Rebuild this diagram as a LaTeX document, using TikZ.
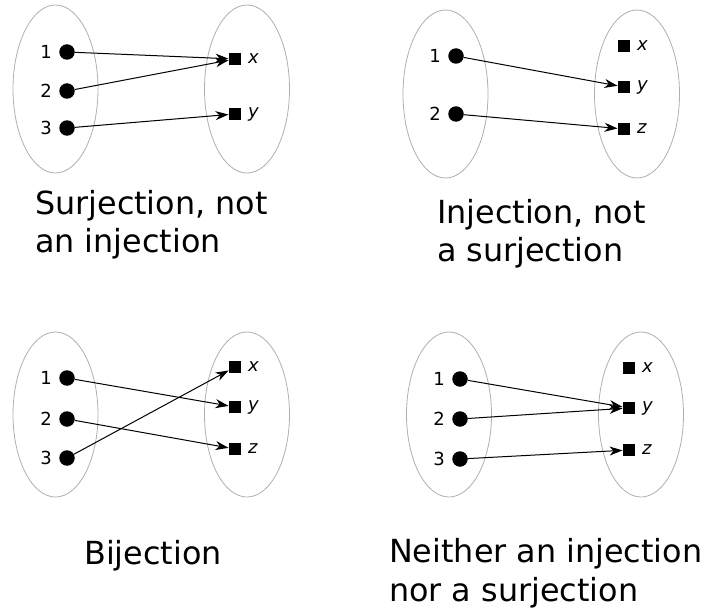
\documentclass[tikz,border=0pt]{standalone}
\usepackage{fontspec}
\setmainfont{DejaVu Sans}
\usetikzlibrary{arrows.meta}
\definecolor{setgray}{HTML}{AFAFAF}
\begin{document}
\begin{tikzpicture}[x=1pt,y=-1pt,
  setellipse/.style={draw=setgray,line width=0.8pt},
  dotnode/.style={circle,fill=black,inner sep=0pt,minimum size=15.5pt},
  sqnode/.style={rectangle,fill=black,inner sep=0pt,minimum size=11.5pt},
  numlbl/.style={inner sep=0pt,font=\fontsize{18}{21}\selectfont},
  letlbl/.style={inner sep=0pt,font=\fontsize{18}{21}\selectfont\itshape},
  maparrow/.style={-{Stealth[length=13pt,width=9pt,inset=4pt]},line width=1pt,shorten >=0.5pt},
  caption/.style={anchor=base west,inner sep=0pt,font=\fontsize{31.8}{38}\selectfont},
  label distance=7pt]
\useasboundingbox (0,0) rectangle (702,610);
% ---------- Panel 1 ----------
\draw[setellipse] (55.5,89) ellipse [x radius=42.5, y radius=84];
\draw[setellipse] (247,89) ellipse [x radius=42.5, y radius=84];
\node[dotnode,label={[numlbl]left:1}] (a1) at (67,52) {};
\node[dotnode,label={[numlbl]left:2}] (a2) at (67,91) {};
\node[dotnode,label={[numlbl]left:3}] (a3) at (67,128) {};
\node[sqnode,label={[letlbl]right:x}] (ax) at (235,59) {};
\node[sqnode,label={[letlbl]right:y}] (ay) at (235,114) {};
\draw[maparrow] (a1) -- (ax);
\draw[maparrow] (a2) -- (ax);
\draw[maparrow] (a3) -- (ay);
\node[caption] (cap1a) at (35,214) {Surjection, not};
\node[caption] (cap1b) at (35,252) {an injection};
% ---------- Panel 2 ----------
\draw[setellipse] (445.5,94) ellipse [x radius=42.5, y radius=84];
\draw[setellipse] (637,94) ellipse [x radius=42.5, y radius=84];
\node[dotnode,label={[numlbl]left:1}] (b1) at (456,56) {};
\node[dotnode,label={[numlbl]left:2}] (b2) at (456,114) {};
\node[sqnode,label={[letlbl]right:x}] (bx) at (624,46) {};
\node[sqnode,label={[letlbl]right:y}] (by) at (624,87) {};
\node[sqnode,label={[letlbl]right:z}] (bz) at (624,129) {};
\draw[maparrow] (b1) -- (by);
\draw[maparrow] (b2) -- (bz);
\node[caption] (cap2a) at (437,223) {Injection, not};
\node[caption] (cap2b) at (437,261) {a surjection};
% ---------- Panel 3 ----------
\draw[setellipse] (55.5,414.5) ellipse [x radius=42.5, y radius=82.5];
\draw[setellipse] (247,414.5) ellipse [x radius=42.5, y radius=82.5];
\node[dotnode,label={[numlbl]left:1}] (c1) at (67,378) {};
\node[dotnode,label={[numlbl]left:2}] (c2) at (67,419) {};
\node[dotnode,label={[numlbl]left:3}] (c3) at (67,458) {};
\node[sqnode,label={[letlbl]right:x}] (cx) at (235,367) {};
\node[sqnode,label={[letlbl]right:y}] (cy) at (235,407) {};
\node[sqnode,label={[letlbl]right:z}] (cz) at (235,449) {};
\draw[maparrow] (c1) -- (cy);
\draw[maparrow] (c2) -- (cz);
\draw[maparrow] (c3) -- (cx);
\node[caption] (cap3) at (84,564) {Bijection};
% ---------- Panel 4 ----------
\draw[setellipse] (449,414.5) ellipse [x radius=42.5, y radius=82.5];
\draw[setellipse] (641,414.5) ellipse [x radius=42.5, y radius=82.5];
\node[dotnode,label={[numlbl]left:1}] (d1) at (460,379) {};
\node[dotnode,label={[numlbl]left:2}] (d2) at (460,419) {};
\node[dotnode,label={[numlbl]left:3}] (d3) at (460,459) {};
\node[sqnode,label={[letlbl]right:x}] (dx) at (629,368) {};
\node[sqnode,label={[letlbl]right:y}] (dy) at (629,408) {};
\node[sqnode,label={[letlbl]right:z}] (dz) at (629,450) {};
\draw[maparrow] (d1) -- (dy);
\draw[maparrow] (d2) -- (dy);
\draw[maparrow] (d3) -- (dz);
\node[caption] (cap4a) at (389,562) {Neither an injection};
\node[caption] (cap4b) at (389,601) {nor a surjection};
\end{tikzpicture}
\end{document}
